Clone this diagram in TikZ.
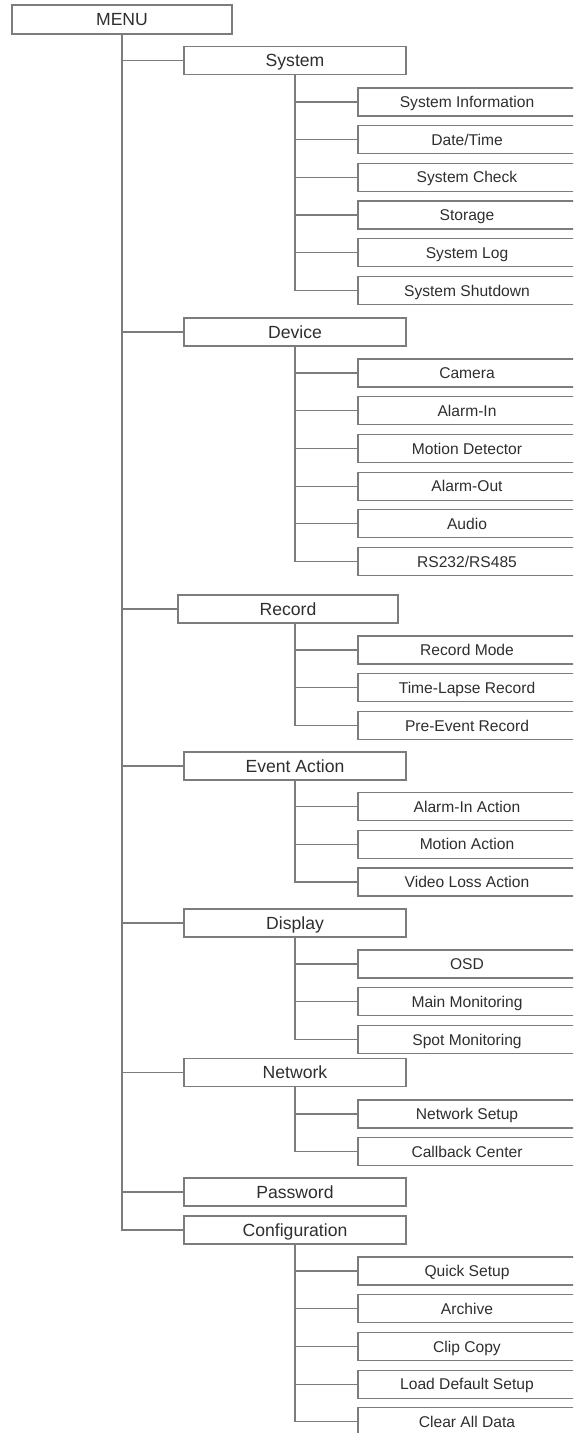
\documentclass[tikz,border=0pt]{standalone}
\usepackage{fontspec}
\setmainfont{Liberation Sans}
\usetikzlibrary{positioning}
\definecolor{rule}{HTML}{7C7C7C}
\definecolor{ink}{HTML}{2E2E2E}

\begin{document}
\begin{tikzpicture}[x=0.5pt,y=-0.5pt,
node distance=4.85pt,
box/.style={draw=rule,line width=0.6pt,outer sep=0pt,inner sep=0pt,minimum width=111pt,minimum height=14pt,text=ink,font=\fontsize{8.8}{10}\selectfont,text height=6.3pt,text depth=0pt},
sub/.style={box,minimum width=109pt,font=\fontsize{7.8}{9}\selectfont,text height=5.6pt},
link/.style={draw=rule,line width=0.6pt}]
\clip (0,0) rectangle (573,1433);
\node[box,minimum width=110pt,minimum height=14.5pt] (menu) at (122,19.5) {MENU};
\node[box] (sys) at (295,60.5) {System};
\node[sub] (sysinfo) at (467,102) {System Information};
\node[sub,below=of sysinfo] (date) {Date/Time};
\node[sub,below=of date] (check) {System Check};
\node[sub,below=of check] (stor) {Storage};
\node[sub,below=of stor] (log) {System Log};
\node[sub,below=of log] (shut) {System Shutdown};
\node[box] (dev) at (295,332) {Device};
\node[sub] (cam) at (467,373) {Camera};
\node[sub,below=of cam] (alin) {Alarm-In};
\node[sub,below=of alin] (motion) {Motion Detector};
\node[sub,below=of motion] (alout) {Alarm-Out};
\node[sub,below=of alout] (audio) {Audio};
\node[sub,below=of audio] (rs) {RS232/RS485};
\node[box,minimum width=110pt] (rec) at (288,609) {Record};
\node[sub] (recmode) at (467,650) {Record Mode};
\node[sub,below=of recmode] (lapse) {Time-Lapse Record};
\node[sub,below=of lapse] (preev) {Pre-Event Record};
\node[box] (evt) at (295,766) {Event Action};
\node[sub] (alact) at (467,806.5) {Alarm-In Action};
\node[sub,below=of alact] (motact) {Motion Action};
\node[sub,below=of motact] (vlact) {Video Loss Action};
\node[box] (disp) at (295,923) {Display};
\node[sub] (osd) at (467,964) {OSD};
\node[sub,below=of osd] (mainmon) {Main Monitoring};
\node[sub,below=of mainmon] (spotmon) {Spot Monitoring};
\node[box] (net) at (295,1072.5) {Network};
\node[sub] (netset) at (467,1114) {Network Setup};
\node[sub,below=of netset] (callback) {Callback Center};
\node[box] (pwd) at (295,1192) {Password};
\node[box] (conf) at (295,1230) {Configuration};
\node[sub] (quick) at (467,1271) {Quick Setup};
\node[sub,below=of quick] (arch) {Archive};
\node[sub,below=of arch] (clip) {Clip Copy};
\node[sub,below=of clip] (loaddef) {Load Default Setup};
\node[sub,below=of loaddef] (clear) {Clear All Data};
\draw[link] (menu.south) |- (sys.west); \draw[link] (menu.south) |- (dev.west);
\draw[link] (menu.south) |- (rec.west); \draw[link] (menu.south) |- (evt.west);
\draw[link] (menu.south) |- (disp.west); \draw[link] (menu.south) |- (net.west);
\draw[link] (menu.south) |- (pwd.west); \draw[link] (menu.south) |- (conf.west);
\draw[link] (sys.south) |- (sysinfo.west); \draw[link] (sys.south) |- (date.west);
\draw[link] (sys.south) |- (check.west); \draw[link] (sys.south) |- (stor.west);
\draw[link] (sys.south) |- (log.west); \draw[link] (sys.south) |- (shut.west);
\draw[link] (dev.south) |- (cam.west); \draw[link] (dev.south) |- (alin.west);
\draw[link] (dev.south) |- (motion.west); \draw[link] (dev.south) |- (alout.west);
\draw[link] (dev.south) |- (audio.west); \draw[link] (dev.south) |- (rs.west);
\draw[link] ([xshift=3.5pt]rec.south) |- (recmode.west); \draw[link] ([xshift=3.5pt]rec.south) |- (lapse.west);
\draw[link] ([xshift=3.5pt]rec.south) |- (preev.west);
\draw[link] (evt.south) |- (alact.west); \draw[link] (evt.south) |- (motact.west);
\draw[link] (evt.south) |- (vlact.west);
\draw[link] (disp.south) |- (osd.west); \draw[link] (disp.south) |- (mainmon.west);
\draw[link] (disp.south) |- (spotmon.west);
\draw[link] (net.south) |- (netset.west); \draw[link] (net.south) |- (callback.west);
\draw[link] (conf.south) |- (quick.west); \draw[link] (conf.south) |- (arch.west);
\draw[link] (conf.south) |- (clip.west); \draw[link] (conf.south) |- (loaddef.west);
\draw[link] (conf.south) |- (clear.west);
\end{tikzpicture}
\end{document}
